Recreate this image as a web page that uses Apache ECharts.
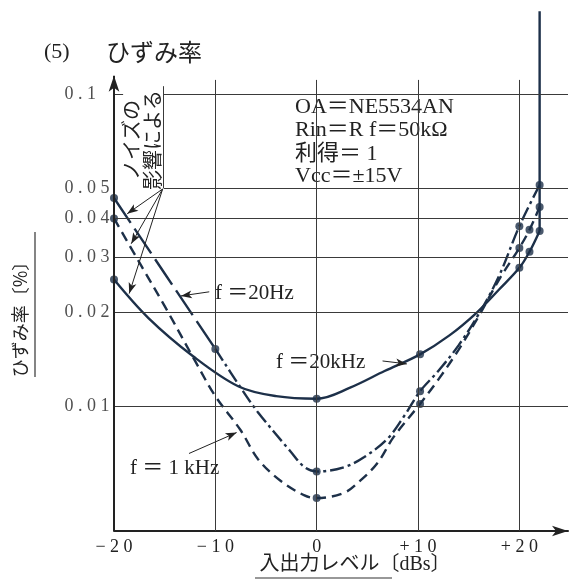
<!DOCTYPE html>
<html>
<head>
<meta charset="utf-8">
<script src="https://cdn.jsdelivr.net/npm/echarts@6/dist/echarts.min.js"></script>
<style>
html, body { margin: 0; padding: 0; background: #fff; }
#chart { width: 571px; height: 581px; }
</style>
</head>
<body>
<div id="chart"></div>
<script>
// f = 20kHz (solid)
var level20k = [-20, -16.6, -12.2, -7.7, -4, 0, 3.3, 6.7, 10.2, 13.1, 15.8, 18, 20, 21, 22];
var thd20k   = [0.0255, 0.0192, 0.0145, 0.0116, 0.0108, 0.0106, 0.0115, 0.0130, 0.0147, 0.0169, 0.0200, 0.0237, 0.0278, 0.0313, 0.0365];
var dots20k  = [0, 5, 8, 12, 13, 14];

// f = 20Hz (long dash up to -10, then dash-dot)
var level20 = [-20, -10, -7.5, -5.8, -2.6, -1.2, 0, 2.7, 4.7, 7, 8.7, 10.2, 12, 14, 16, 18, 20, 22];
var thd20   = [0.0465, 0.0153, 0.0115, 0.0096, 0.0072, 0.0064, 0.0062, 0.0064, 0.0069, 0.0079, 0.0094, 0.0112, 0.0130, 0.0157, 0.0198, 0.0262, 0.0378, 0.0512];
var dots20  = [0, 1, 6, 11, 16, 17];

// f = 1kHz (dashed)
var level1k = [-20, -17.3, -14.9, -12, -10, -7.5, -5.8, -3.6, -1.2, 0, 2.7, 4.3, 6, 7.6, 10.2, 12, 14, 16, 18, 20, 21, 22];
var thd1k   = [0.040, 0.0282, 0.0207, 0.0140, 0.0108, 0.0084, 0.0068, 0.0058, 0.0052, 0.0051, 0.0053, 0.0058, 0.0066, 0.0080, 0.0102, 0.0122, 0.0152, 0.0195, 0.0255, 0.0322, 0.0368, 0.0435];
var dots1k  = [0, 9, 14, 19, 20, 21];

// clipping: all three shoot straight up at +22 dBs
var clipLevel = [22, 22];
var clipThd   = [0.0365, 0.184];

var xTicks = [-20, -10, 0, 10, 20];
var yTicks = [0.01, 0.02, 0.03, 0.04, 0.05, 0.1];

var ink = '#1d3049';
var textInk = '#222';
var serif = "'Liberation Serif', 'Noto Sans CJK JP', serif";
var cjk = "'Noto Sans CJK JP', sans-serif";

function pts(xs, ys) { return xs.map(function (x, i) { return [x, ys[i]]; }); }
function pick(xs, ys, idx) { return idx.map(function (i) { return [xs[i], ys[i]]; }); }
function spaced(s) { return s.split('').join(' '); }
function seg(x1, y1, x2, y2) { return [{ coord: [x1, y1] }, { coord: [x2, y2] }]; }
function arrow(x1, y1, x2, y2) {
    return [{ coord: [x1, y1], symbol: 'none' }, { coord: [x2, y2], symbol: 'arrow', symbolSize: [6, 11] }];
}

function curve(data, dash) {
    return {
        type: 'line', data: data, smooth: 0.35, symbol: 'none', z: 3, silent: true,
        lineStyle: { color: ink, width: 2.4, type: dash }
    };
}
function dots(data) {
    return { type: 'scatter', data: data, symbol: 'circle', symbolSize: 8, z: 4, silent: true, itemStyle: { color: ink } };
}

var chart = echarts.init(document.getElementById('chart'));

// grid lines (0.1 and 0.05 start right of the note box)
var gridLines = [];
[0.04, 0.03, 0.02, 0.01].forEach(function (v) { gridLines.push(seg(-20, v, 24.8, v)); });
[0.1, 0.05].forEach(function (v) { gridLines.push(seg(-15.1, v, 24.8, v)); });
xTicks.slice(1).forEach(function (x) { gridLines.push(seg(x, 0.004, x, 0.111)); });
gridLines.push(seg(-15.1, 0.106, -15.1, 0.05));
gridLines.push(seg(-20, 0.1, -19.1, 0.1));

var p20 = pts(level20, thd20);

var option = {
    animation: false,
    backgroundColor: '#fff',
    grid: { left: 114, right: 0, top: 0, bottom: 50 },
    xAxis: {
        type: 'value', min: -20, max: 24.8, interval: 10,
        axisLine: { show: true, symbol: ['none', 'arrow'], symbolSize: [8, 16], lineStyle: { color: '#222', width: 2 } },
        axisTick: { show: false },
        splitLine: { show: false },
        axisLabel: {
            margin: 7, fontSize: 18, fontFamily: serif, color: textInk,
            formatter: function (v) {
                if (v % 10 !== 0) return '';
                var s = v < 0 ? '\u2212' + (-v) : (v > 0 ? '+' + v : '0');
                return spaced(s);
            }
        }
    },
    yAxis: {
        type: 'log', logBase: 10, min: 0.004, max: 0.2,
        axisLine: { show: false }, axisTick: { show: false },
        axisLabel: { show: false }, splitLine: { show: false }
    },
    series: [
        {
            type: 'line', data: [], silent: true, z: 1,
            markLine: {
                silent: true, symbol: ['none', 'none'], animation: false,
                label: { show: false },
                lineStyle: { color: '#3a3a3a', width: 1, type: 'solid' },
                data: gridLines
            }
        },
        {
            type: 'line', data: [], silent: true, z: 2,
            markLine: {
                silent: true, symbol: ['none', 'arrow'], animation: false,
                label: { show: false },
                lineStyle: { color: '#222', width: 1, type: 'solid' },
                data: [
                    // y axis
                    [{ coord: [-20, 0.004], symbol: 'none', lineStyle: { width: 2 } },
                     { coord: [-20, 0.1145], symbol: 'arrow', symbolSize: [8, 16] }],
                    // noise notes
                    arrow(-15.2, 0.0497, -18.7, 0.0414),
                    arrow(-15.2, 0.0497, -18.3, 0.0332),
                    arrow(-15.2, 0.0497, -18.5, 0.0230),
                    // curve labels
                    arrow(-10.6, 0.0233, -13.4, 0.0226),
                    arrow(6.5, 0.0140, 8.9, 0.0137),
                    arrow(-12.6, 0.00708, -7.9, 0.00826)
                ]
            }
        },
        curve(pts(level20k, thd20k), 'solid'),
        curve(p20.slice(0, 2), [30, 7]),
        curve(p20.slice(1), [14, 4, 3, 4]),
        curve(pts(level1k, thd1k), [10, 6]),
        {
            type: 'line', data: pts(clipLevel, clipThd), symbol: 'none', z: 3, silent: true,
            lineStyle: { color: ink, width: 2.4 }
        },
        dots(pick(level20k, thd20k, dots20k)),
        dots(pick(level20, thd20, dots20)),
        dots(pick(level1k, thd1k, dots1k)),
        {
            type: 'scatter', silent: true, symbolSize: 1, itemStyle: { color: 'rgba(0,0,0,0)' },
            data: yTicks.map(function (v) { return [-20, v]; }),
            label: {
                show: true, position: 'left', distance: 49, align: 'left',
                fontSize: 18, fontFamily: serif, color: textInk,
                formatter: function (p) { return spaced(String(p.value[1])); }
            }
        }
    ],
    graphic: [
        { type: 'text', x: 44, y: 52, style: { text: '(5)', fontSize: 22, fontFamily: serif, fill: textInk, verticalAlign: 'middle' } },
        { type: 'text', x: 106, y: 52, style: { text: 'ひずみ率', fontSize: 24, fontFamily: cjk, fill: textInk, verticalAlign: 'middle' } },

        { type: 'text', x: 295, y: 107, style: { text: 'OA＝NE5534AN', fontSize: 22, fontFamily: serif, fill: textInk, verticalAlign: 'middle' } },
        { type: 'text', x: 295, y: 130, style: { text: 'Rin＝R f＝50kΩ', fontSize: 22, fontFamily: serif, fill: textInk, verticalAlign: 'middle' } },
        { type: 'text', x: 295, y: 154, style: { text: '利得＝ 1', fontSize: 22, fontFamily: serif, fill: textInk, verticalAlign: 'middle' } },
        { type: 'text', x: 295, y: 176, style: { text: 'Vcc＝±15V', fontSize: 22, fontFamily: serif, fill: textInk, verticalAlign: 'middle' } },

        { type: 'text', x: 215, y: 293, style: { text: 'f ＝20Hz', fontSize: 21, fontFamily: serif, fill: textInk, verticalAlign: 'middle' } },
        { type: 'text', x: 276, y: 362, style: { text: 'f ＝20kHz', fontSize: 21, fontFamily: serif, fill: textInk, verticalAlign: 'middle' } },
        { type: 'text', x: 130, y: 468, style: { text: 'f ＝ 1 kHz', fontSize: 21, fontFamily: serif, fill: textInk, verticalAlign: 'middle' } },

        { type: 'text', x: 131, y: 180, rotation: Math.PI / 2, style: { text: 'ノイズの', fontSize: 20, fontFamily: cjk, fill: textInk, align: 'left', verticalAlign: 'middle' } },
        { type: 'text', x: 152, y: 190, rotation: Math.PI / 2, style: { text: '影響による', fontSize: 20, fontFamily: cjk, fill: textInk, align: 'left', verticalAlign: 'middle' } },

        { type: 'text', x: 20, y: 315, rotation: Math.PI / 2, style: { text: 'ひずみ率〔%〕', fontSize: 18, fontFamily: cjk, fill: textInk, align: 'center', verticalAlign: 'middle' } },
        { type: 'line', shape: { x1: 35, y1: 232, x2: 35, y2: 377 }, style: { stroke: '#333', lineWidth: 1.2 } },

        { type: 'text', x: 355, y: 565, style: { text: '入出力レベル〔dBs〕', fontSize: 20, fontFamily: serif, fill: textInk, align: 'center', verticalAlign: 'middle' } },
        { type: 'line', shape: { x1: 255, y1: 578, x2: 392, y2: 578 }, style: { stroke: '#333', lineWidth: 1.2 } }
    ]
};

chart.setOption(option);
</script>
</body>
</html>
